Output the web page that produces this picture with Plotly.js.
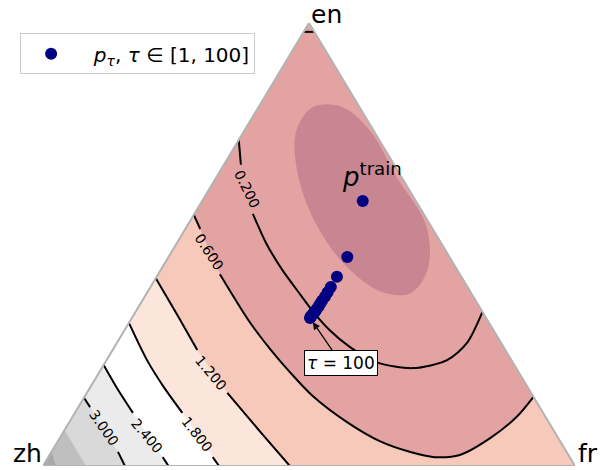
<!DOCTYPE html>
<html><head><meta charset="utf-8">
<script src="https://cdn.plot.ly/plotly-3.0.1.min.js"></script>
<style>html,body{margin:0;padding:0;background:#fff}#chart{width:600px;height:470px}</style>
</head><body><div id="chart"></div>
<script>
// Ternary compositions: en, fr (zh = 1 - en - fr). null = gap for contour label.
const c02_en = [0.736, 0.680, null, 0.569, 0.503, 0.445, 0.388, 0.348, 0.307, 0.269, 0.234, 0.221, 0.239, 0.278, 0.348];
const c02_fr = [0.000, 0.032, null, 0.110, 0.168, 0.226, 0.289, 0.334, 0.385, 0.442, 0.511, 0.585, 0.640, 0.658, 0.652];
const c06_en = [0.567, 0.535, null, 0.433, 0.325, 0.264, 0.212, 0.158, 0.099, 0.056, 0.032, 0.020, 0.025, 0.063, 0.111, 0.156];
const c06_fr = [0.000, 0.028, null, 0.116, 0.226, 0.295, 0.358, 0.428, 0.522, 0.605, 0.673, 0.726, 0.771, 0.809, 0.835, 0.844];
const c12_en = [0.424, 0.341, 0.262, null, 0.165, 0.077, 0.000];
const c12_fr = [0.000, 0.082, 0.159, null, 0.264, 0.370, 0.464];
const c18_en = [0.323, 0.239, 0.181, 0.120, null, 0.020, 0.000];
const c18_fr = [0.000, 0.076, 0.135, 0.202, null, 0.309, 0.331];
const c24_en = [0.228, 0.172, 0.120, null, 0.020, 0.000];
const c24_fr = [0.000, 0.055, 0.109, null, 0.215, 0.236];
const c30_en = [0.154, 0.133, null, 0.032, 0.000];
const c30_fr = [0.000, 0.022, null, 0.125, 0.154];
const ctop_en = [0.980, 0.980];
const ctop_fr = [0.000, 0.020];
const g2_en = [0.081, 0.041, 0.000];
const g2_fr = [0.000, 0.040, 0.081];
const g3_en = [0.032, 0.000];
const g3_fr = [0.000, 0.024];
const levelLabels = ['0.200', '0.600', '1.200', '1.800', '2.400', '3.000'];
const label_en = [0.625, 0.483, 0.210, 0.072, 0.068, 0.086];
const label_fr = [0.071, 0.071, 0.211, 0.253, 0.162, 0.072];
const ell_en = [0.3905, 0.3928, 0.4492, 0.5463, 0.6569, 0.7540, 0.8104, 0.8104, 0.7540, 0.6546, 0.5440, 0.4470];
const ell_fr = [0.4964, 0.4408, 0.3468, 0.2401, 0.1509, 0.0986, 0.1023, 0.1568, 0.2395, 0.3362, 0.4479, 0.5002];
const tau_en = [0.598, 0.472, 0.427, 0.404, 0.392, 0.382, 0.373, 0.366, 0.360, 0.354, 0.349, 0.345, 0.342, 0.339, 0.337, 0.335, 0.334];
const tau_fr = [0.302, 0.336, 0.339, 0.339, 0.339, 0.339, 0.338, 0.338, 0.338, 0.337, 0.337, 0.336, 0.336, 0.335, 0.335, 0.335, 0.335];
const vertexNames = ['en', 'zh', 'fr'];

function cx(en, fr) { return en.map((e, i) => e === null ? null : fr[i] + e / 2); }
function cy(en) { return en.map(e => e); }
function clean(en, fr) {
  const e = [], f = [];
  en.forEach((v, i) => { if (v !== null) { e.push(v); f.push(fr[i]); } });
  return [e, f];
}
function region(en, fr, extraEn, extraFr, color) {
  const [e, f] = clean(en, fr);
  const E = e.concat(extraEn), F = f.concat(extraFr);
  return {x: cx(E, F), y: cy(E), mode: 'lines', fill: 'toself', fillcolor: color,
          line: {width: 0}, hoverinfo: 'skip', showlegend: false};
}
function cline(en, fr) {
  return {x: cx(en, fr), y: cy(en), mode: 'lines', line: {color: '#000', width: 2, shape: 'spline', smoothing: 0.8},
          connectgaps: false, hoverinfo: 'skip', showlegend: false};
}

const traces = [];
traces.push(region([0, 1, 0], [0, 0, 1], [], [], '#f6c9ba'));
traces.push(region(c06_en, c06_fr, [1], [0], '#e4a3a3'));
traces.push(region(c12_en, c12_fr, [0], [0], '#fce6dc'));
traces.push(region(c18_en, c18_fr, [0], [0], '#ffffff'));
traces.push(region(c24_en, c24_fr, [0], [0], '#ebebeb'));
traces.push(region(c30_en, c30_fr, [0], [0], '#d9d9d9'));
traces.push(region(g2_en, g2_fr, [0], [0], '#bfbfbf'));
traces.push(region(g3_en, g3_fr, [0], [0], '#a9a9a9'));
const eE = ell_en.concat([ell_en[0]]), eF = ell_fr.concat([ell_fr[0]]);
traces.push({x: cx(eE, eF), y: cy(eE), mode: 'lines', fill: 'toself', fillcolor: '#c88692',
             line: {width: 0, shape: 'spline', smoothing: 1}, hoverinfo: 'skip', showlegend: false});
[[c02_en, c02_fr], [c06_en, c06_fr], [c12_en, c12_fr], [c18_en, c18_fr], [c24_en, c24_fr], [c30_en, c30_fr], [ctop_en, ctop_fr]]
  .forEach(([e, f]) => traces.push(cline(e, f)));
traces.push({x: cx([0, 1, 0, 0], [0, 0, 1, 0]), y: cy([0, 1, 0, 0]), mode: 'lines',
             line: {color: '#b3b3b3', width: 2}, cliponaxis: false, hoverinfo: 'skip', showlegend: false});
traces.push({x: cx(tau_en, tau_fr), y: cy(tau_en), mode: 'markers', cliponaxis: false,
             marker: {color: '#000080', size: 12},
             name: '\u00a0\u00a0<i>p</i><sub><i>τ</i></sub>, <i>τ</i> ∈ [1, 100]'});

const F = 'DejaVu Sans, sans-serif';
const labelAngles = [64, 57, 50, 52, 50, 55];
const annotations = levelLabels.map((t, i) => ({
  x: label_fr[i] + label_en[i] / 2, y: label_en[i], xref: 'x', yref: 'y', text: t, showarrow: false,
  textangle: labelAngles[i], font: {family: F, size: 14, color: '#000'}
}));
const vpos = [[0.532, 1.0203], [-0.030, 0.0282], [1.0244, 0.0282]];
vertexNames.forEach((n, i) => annotations.push({x: vpos[i][0], y: vpos[i][1], xref: 'paper', yref: 'paper', text: n,
  xanchor: 'center', yanchor: 'middle', borderpad: 0, showarrow: false, font: {family: F, size: 25, color: '#000'}}));
annotations.push({x: 0.6184, y: 0.6569, xref: 'paper', yref: 'paper', text: '<i>p</i><sup>train</sup>', showarrow: false,
  xanchor: 'center', yanchor: 'middle', font: {family: F, size: 26, color: '#000'}});
const last = tau_en.length - 1;
annotations.push({x: tau_fr[last] + tau_en[last] / 2, y: tau_en[last], xref: 'x', yref: 'y',
  text: '<i>τ</i> = 100', showarrow: true, ax: 31, ay: 45, arrowhead: 2, arrowsize: 1.2, arrowwidth: 1.2,
  arrowcolor: '#000', standoff: 5, bgcolor: '#fff', bordercolor: '#000', borderwidth: 1, borderpad: 2,
  font: {family: F, size: 17, color: '#000'}});

const layout = {
  width: 600, height: 470,
  margin: {l: 43, r: 25, t: 23, b: 4},
  paper_bgcolor: '#fff', plot_bgcolor: '#fff',
  xaxis: {range: [0, 1], visible: false, fixedrange: true},
  yaxis: {range: [0, 1], visible: false, fixedrange: true},
  showlegend: true,
  legend: {x: -0.043, y: 0.977, xanchor: 'left', yanchor: 'top', bgcolor: '#fff', bordercolor: '#cccccc',
           borderwidth: 1, itemwidth: 50, font: {family: F, size: 20, color: '#000'}},
  annotations: annotations,
  font: {family: F}
};
Plotly.newPlot('chart', traces, layout, {displayModeBar: false, staticPlot: true});
</script></body></html>
